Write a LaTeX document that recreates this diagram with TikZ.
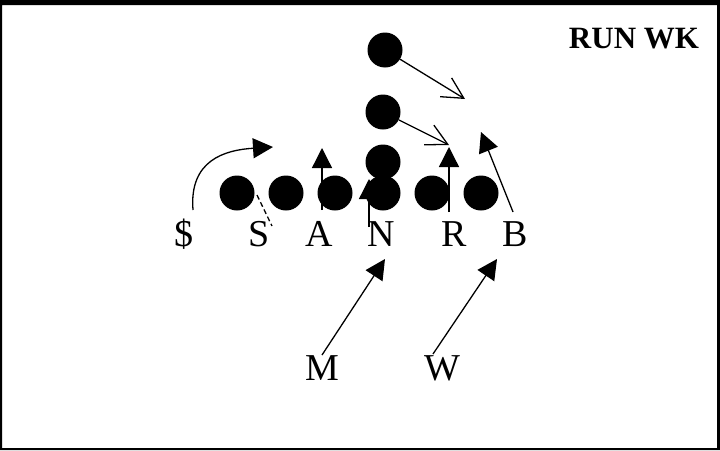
\documentclass[tikz,border=0pt]{standalone}
\usepackage{fontspec}
\setmainfont{Liberation Serif}
\usetikzlibrary{arrows.meta,positioning}

\tikzset{
  player/.style={circle,fill=black,minimum size=35pt,inner sep=0pt},
  tag/.style={anchor=base,font=\fontsize{38}{40}\selectfont},
  run/.style={-{Triangle[length=20pt,width=20pt]},line width=1.3pt},
  block/.style={-{Straight Barb[length=21pt,width=22pt]},line width=1.3pt}
}

\begin{document}
\begin{tikzpicture}[x=1pt,y=-1pt,>=Latex]
  \useasboundingbox (0,0) rectangle (720,450);
  \fill[even odd rule] (0,0) rectangle (720,450) (2,5) rectangle (717,448);
  \node[anchor=base,font=\fontsize{31}{33}\selectfont\bfseries] (title) at (634,48) {RUN WK};

  % line
  \node[player] (o1) at (237,193) {};
  \node[player] (o2) at (286,193) {};
  \node[player] (o3) at (335,193) {};
  \node[player] (o4) at (383,193) {};
  \node[player] (o5) at (432,193) {};
  \node[player] (o6) at (481,193) {};
  \node[player] (qb) at (383,162) {};
  \node[player] (hb) at (383,112) {};
  \node[player] (fb) at (385,50) {};

  % defense
  \node[tag] (dol) at (184,246) {\$};
  \node[tag] (s) at (259,246) {S};
  \node[tag] (a) at (319,246) {A};
  \node[tag] (n) at (381,246) {N};
  \node[tag] (r) at (454,246) {R};
  \node[tag] (b) at (515,246) {B};
  \node[tag] (m) at (322,380) {M};
  \node[tag] (w) at (442,380) {W};

  \coordinate (dolS) at (193,210);
  \coordinate (dolT) at (273,147);
  \coordinate (aS) at (322,210);
  \coordinate (aT) at (322,148);
  \coordinate (nS) at (369,227);
  \coordinate (nT) at (369,179);
  \coordinate (rS) at (449,212);
  \coordinate (rT) at (449,147);
  \coordinate (bS) at (513,212);
  \coordinate (bT) at (481,132);
  \coordinate (mS) at (322,355);
  \coordinate (mT) at (385,259);
  \coordinate (wS) at (433,354);
  \coordinate (wT) at (497,259);
  \coordinate (sS) at (257,195);
  \coordinate (sT) at (272,226);
  \coordinate (fbT) at (465,99);
  \coordinate (hbT) at (449,145);

  \draw[run] (dolS) .. controls (189,160) and (225,150) .. (dolT);
  \draw[run] (aS) -- (aT);
  \draw[run] (nS) -- (nT);
  \draw[run] (rS) -- (rT);
  \draw[run] (bS) -- (bT);
  \draw[run] (mS) -- (mT);
  \draw[run] (wS) -- (wT);
  \draw[line width=1.3pt,dash pattern=on 5pt off 3pt] (sS) -- (sT);
  \draw[block] (fb) -- (fbT);
  \draw[block] (hb) -- (hbT);
\end{tikzpicture}
\end{document}
